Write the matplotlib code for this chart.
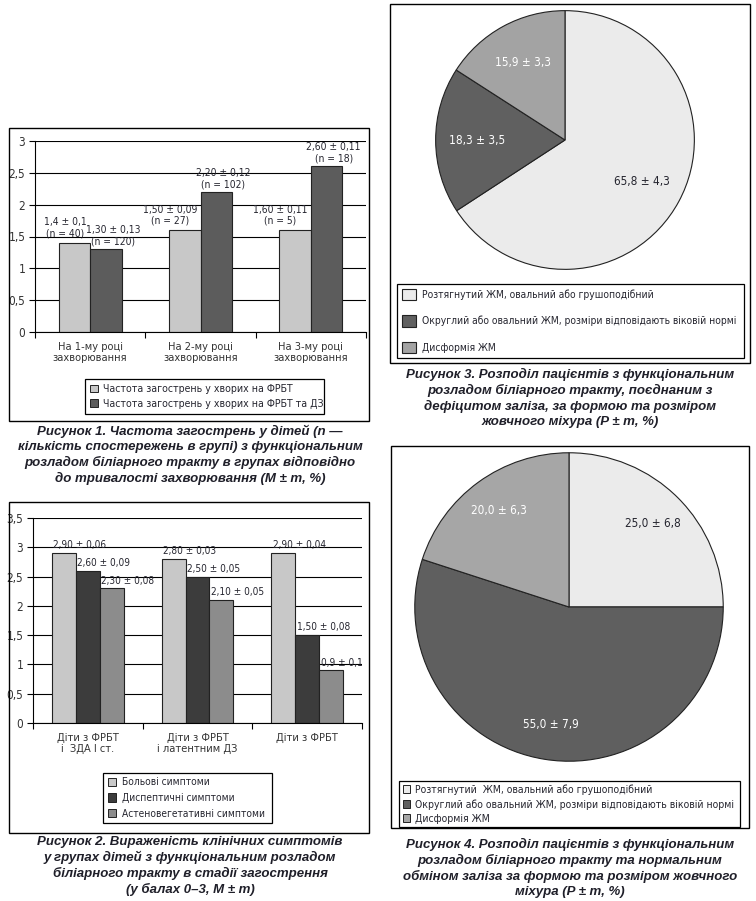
import numpy as np
import matplotlib
matplotlib.use('Agg')
import matplotlib.pyplot as plt
from matplotlib.patches import Patch, Rectangle

W, H = 756, 901

# ---- data: figure 1 ----
fig1_groups = ['На 1-му році\nзахворювання', 'На 2-му році\nзахворювання',
               'На 3-му році\nзахворювання']
fig1_series = ['Частота загострень у хворих на ФРБТ',
               'Частота загострень у хворих на ФРБТ та ДЗ']
fig1_frbt = [1.4, 1.6, 1.6]
fig1_frbt_dz = [1.3, 2.2, 2.6]
fig1_lab_frbt = ['1,4 ± 0,1', '1,50 ± 0,09', '1,60 ± 0,11']
fig1_lab_frbt_dz = ['1,30 ± 0,13', '2,20 ± 0,12', '2,60 ± 0,11']
fig1_n_frbt = [40, 27, 5]
fig1_n_frbt_dz = [120, 102, 18]

# ---- data: figure 2 ----
fig2_groups = ['Діти з ФРБТ\nі  ЗДА І ст.', 'Діти з ФРБТ\nі латентним ДЗ', 'Діти з ФРБТ']
fig2_series = ['Больові симптоми', 'Диспептичні симптоми', 'Астеновегетативні симптоми']
fig2_pain = [2.9, 2.8, 2.9]
fig2_dysp = [2.6, 2.5, 1.5]
fig2_asth = [2.3, 2.1, 0.9]
fig2_lab_pain = ['2,90 ± 0,06', '2,80 ± 0,03', '2,90 ± 0,04']
fig2_lab_dysp = ['2,60 ± 0,09', '2,50 ± 0,05', '1,50 ± 0,08']
fig2_lab_asth = ['2,30 ± 0,08', '2,10 ± 0,05', '0,9 ± 0,1']

# ---- data: figures 3 and 4 ----
pie_classes = ['Розтягнутий ЖМ, овальний або грушоподібний',
               'Округлий або овальний ЖМ, розміри відповідають віковій нормі',
               'Дисформія ЖМ']
pie4_classes = ['Розтягнутий  ЖМ, овальний або грушоподібний',
                'Округлий або овальний ЖМ, розміри відповідають віковій нормі',
                'Дисформія ЖМ']
fig3_values = [65.8, 18.3, 15.9]
fig3_errors = [4.3, 3.5, 3.3]
fig4_values = [25.0, 55.0, 20.0]
fig4_errors = [6.8, 7.9, 6.3]

captions = [
    'Рисунок 1. Частота загострень у дітей (n —\nкількість спостережень в групі) з функціональним\n'
    'розладом біліарного тракту в групах відповідно\nдо тривалості захворювання (M ± m, %)',
    'Рисунок 2. Вираженість клінічних симптомів\nу групах дітей з функціональним розладом\n'
    'біліарного тракту в стадії загострення\n(у балах 0–3, M ± m)',
    'Рисунок 3. Розподіл пацієнтів з функціональним\nрозладом біліарного тракту, поєднаним з\n'
    'дефіцитом заліза, за формою та розміром\nжовчного міхура (P ± m, %)',
    'Рисунок 4. Розподіл пацієнтів з функціональним\nрозладом біліарного тракту та нормальним\n'
    'обміном заліза за формою та розміром жовчного\nміхура (P ± m, %)',
]

plt.rcParams['font.family'] = ['DejaVu Sans']
plt.rcParams['font.stretch'] = 'condensed'
plt.rcParams['text.color'] = '#25252f'
plt.rcParams['axes.linewidth'] = 0.8


def frac(x0, y0, x1, y1):
    # pixel box (top-left origin) -> figure fraction rect
    return [x0 / W, 1 - y1 / H, (x1 - x0) / W, (y1 - y0) / H]


def frame(fig, x0, y0, x1, y1):
    fig.add_artist(Rectangle((x0 / W, 1 - y1 / H), (x1 - x0) / W, (y1 - y0) / H,
                             transform=fig.transFigure, fill=False, ec='black', lw=1))


def style_bar_axes(ax, ymax, labels):
    n = len(labels)
    ax.set_xlim(-0.5, n - 0.5)
    ax.set_ylim(0, ymax)
    yt = np.arange(0, ymax + 0.01, 0.5)
    ax.set_yticks(yt)
    ax.set_yticklabels([f'{v:g}'.replace('.', ',') for v in yt], fontsize=8.5, color='#333333')
    ax.yaxis.grid(True, color='black', lw=0.8)
    ax.set_axisbelow(True)
    for s in ('top', 'right'):
        ax.spines[s].set_visible(False)
    ax.set_xticks(range(n))
    ax.set_xticklabels(labels, fontsize=7.9, color='#333333', linespacing=1.1)
    ax.set_xticks(np.arange(-0.5, n), minor=True)
    ax.tick_params(axis='x', which='major', length=0, pad=7)
    ax.tick_params(axis='x', which='minor', length=4, width=0.8)
    ax.tick_params(axis='y', length=4, width=0.8, pad=3)


def box_legend(fig, handles, labels, box, size=7.6, **kw):
    leg = fig.legend(handles, labels, loc='center', bbox_to_anchor=tuple(frac(*box)),
                     mode='expand', borderaxespad=0, fancybox=False, framealpha=1,
                     edgecolor='black', fontsize=size, **kw)
    leg.get_frame().set_linewidth(0.9)
    return leg


fig = plt.figure(figsize=(W / 100, H / 100), dpi=100)
cap_font = dict(family=['Liberation Sans', 'DejaVu Sans'], stretch='normal', weight='bold',
                style='italic', fontsize=9.5, linespacing=1.3, ha='center', va='center',
                color='#1f1f29')

# ---------------- figure 1 ----------------
frame(fig, 9, 128, 369, 421)
ax1 = fig.add_axes(frac(35, 141, 366, 332))
x = np.arange(len(fig1_groups))
w1 = 0.287
c1 = ['#c8c8c8', '#5c5c5c']
bars_a = ax1.bar(x - w1 / 2, fig1_frbt, w1, color=c1[0], edgecolor='#222222', lw=0.8)
bars_b = ax1.bar(x + w1 / 2, fig1_frbt_dz, w1, color=c1[1], edgecolor='#222222', lw=0.8)
style_bar_axes(ax1, 3, fig1_groups)
for r, lab, n in zip(bars_a, fig1_lab_frbt, fig1_n_frbt):
    ax1.annotate(f'{lab}\n(n = {n})', xy=(r.get_x() + r.get_width(), r.get_height()),
                 xytext=(-2.5, 3), textcoords='offset points', ha='right', va='bottom',
                 multialignment='center', fontsize=7.4, linespacing=1.15)
for r, lab, n in zip(bars_b, fig1_lab_frbt_dz, fig1_n_frbt_dz):
    ax1.annotate(f'{lab}\n(n = {n})', xy=(r.get_x() + r.get_width() / 2, r.get_height()),
                 xytext=(5, 2), textcoords='offset points', ha='center', va='bottom',
                 multialignment='center', fontsize=7.4, linespacing=1.15)
box_legend(fig, [Patch(fc=c, ec='#222222', lw=0.7) for c in c1], fig1_series,
           (85, 378, 324, 415), handlelength=0.75, handleheight=0.75,
           handletextpad=0.5, labelspacing=0.45, borderpad=0.5)
fig.text(190 / W, 1 - 455 / H, captions[0], **cap_font)

# ---------------- figure 2 ----------------
frame(fig, 9, 502, 369, 833)
ax2 = fig.add_axes(frac(33, 518, 362, 723))
w2 = 0.218
c2 = ['#c8c8c8', '#3c3c3c', '#8c8c8c']
x = np.arange(len(fig2_groups))
series2 = [fig2_pain, fig2_dysp, fig2_asth]
labels2 = [fig2_lab_pain, fig2_lab_dysp, fig2_lab_asth]
for i, (vals, labs) in enumerate(zip(series2, labels2)):
    bars = ax2.bar(x + (i - 1) * w2, vals, w2, color=c2[i], edgecolor='#222222', lw=0.8)
    for r, lab in zip(bars, labs):
        ax2.annotate(lab, xy=(r.get_x(), r.get_height()), xytext=(1, 2),
                     textcoords='offset points', ha='left', va='bottom', fontsize=7.2)
style_bar_axes(ax2, 3.5, fig2_groups)
box_legend(fig, [Patch(fc=c, ec='#222222', lw=0.7) for c in c2], fig2_series,
           (103, 771, 272, 825), size=7.3, handlelength=0.85, handleheight=0.85,
           handletextpad=0.6, labelspacing=0.55, borderpad=0.45)
fig.text(190 / W, 1 - 866 / H, captions[1], **cap_font)


def draw_pie(ax, values, errors, colors, dist):
    labs = [f'{v:.1f} ± {e:.1f}'.replace('.', ',') for v, e in zip(values, errors)]
    wedges, texts = ax.pie(values, labels=labs, colors=colors, startangle=90,
                           counterclock=False, labeldistance=dist,
                           wedgeprops=dict(edgecolor='#222222', lw=0.8),
                           textprops=dict(ha='center', va='center', fontsize=8.5))
    for t, tc in zip(texts, ['#25252f', 'white', 'white']):
        t.set_color(tc)
    ax.set_xlim(-1.005, 1.005)
    ax.set_ylim(-1.005, 1.005)
    return wedges


# ---------------- figure 3 ----------------
frame(fig, 390, 4, 750, 363)
ax3 = fig.add_axes(frac(565 - 130, 140 - 130, 565 + 130, 140 + 130))
c3 = ['#ebebeb', '#606060', '#a3a3a3']
draw_pie(ax3, fig3_values, fig3_errors, c3, 0.68)
box_legend(fig, [Patch(fc=c, ec='#222222', lw=0.8) for c in c3], pie_classes,
           (397, 284, 744, 358), size=7.4, handlelength=1.3, handleheight=1.3,
           handletextpad=0.6, labelspacing=1.45, borderpad=0.5)
fig.text(570 / W, 1 - 398 / H, captions[2], **cap_font)

# ---------------- figure 4 ----------------
frame(fig, 391, 446, 749, 828)
ax4 = fig.add_axes(frac(569 - 155, 607 - 155, 569 + 155, 607 + 155))
c4 = ['#ebebeb', '#5f5f5f', '#a6a6a6']
draw_pie(ax4, fig4_values, fig4_errors, c4, 0.77)
box_legend(fig, [Patch(fc=c, ec='#222222', lw=0.7) for c in c4], pie4_classes,
           (399, 778, 740, 830), size=7.5, handlelength=0.75, handleheight=0.75,
           handletextpad=0.4, labelspacing=0.4, borderpad=0.35)
fig.text(570 / W, 1 - 868 / H, captions[3], **cap_font)

fig.savefig('out.png', dpi=100)
